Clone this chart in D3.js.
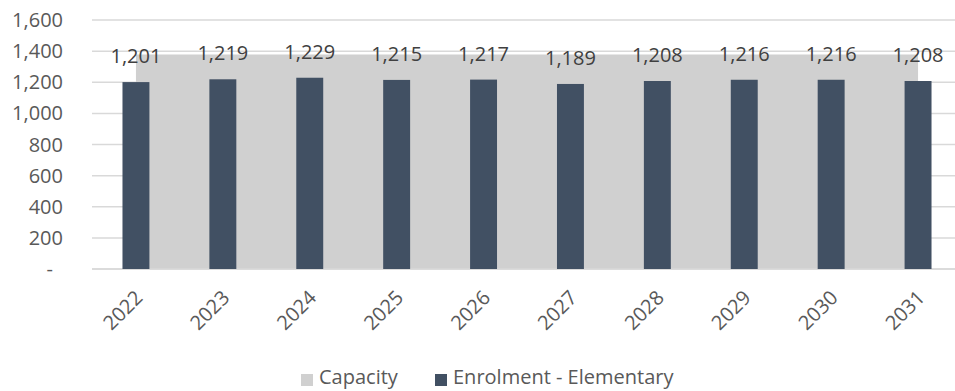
<!DOCTYPE html>
<html><head><meta charset="utf-8">
<script src="https://cdn.jsdelivr.net/npm/d3@7"></script>
<style>body{margin:0;background:#fff;} text{font-family:"Open Sans",sans-serif;}</style>
</head><body><svg id="c" width="955" height="391"></svg>
<script>
const years = ["2022","2023","2024","2025","2026","2027","2028","2029","2030","2031"];
const enrolment = [1201,1219,1229,1215,1217,1189,1208,1216,1216,1208];
const capacity = [1378,1378,1378,1378,1378,1378,1378,1378,1378,1378];
const yTicks = [0,200,400,600,800,1000,1200,1400,1600];
const legendLabels = ["Capacity","Enrolment - Elementary"];

const svg = d3.select("#c");
const x = d3.scaleBand().domain(years).range([92.5, 961.5]).paddingInner(0.69).paddingOuter(0.345);
const xc = d => x(d) + x.bandwidth()/2;
const y = d3.scaleLinear().domain([0,1600]).range([269,20]);
const fmt = d3.format(",");

// gridlines
svg.append("g").selectAll("line").data(yTicks).join("line")
  .attr("x1",92).attr("x2",955).attr("y1",d=>y(d)).attr("y2",d=>y(d))
  .attr("stroke","#d9d9d9").attr("stroke-width",1.5);

// y labels
svg.append("g").selectAll("text").data(yTicks).join("text")
  .attr("x",d=> d===0 ? 53 : 63).attr("y",d=>y(d)).attr("dy","0.35em")
  .attr("text-anchor","end").attr("font-size",20).attr("fill","#595959")
  .text(d=> d===0 ? "-" : fmt(d));

// capacity area
const area = d3.area().x((d,i)=>xc(years[i])).y0(y(0)).y1(d=>y(d));
svg.append("path").datum(capacity).attr("d",area).attr("fill","#d0d0d0");

// baseline
svg.append("line").attr("x1",92).attr("x2",955).attr("y1",y(0)).attr("y2",y(0))
  .attr("stroke","#d9d9d9").attr("stroke-width",1.5);

// bars
svg.append("g").selectAll("rect").data(enrolment).join("rect")
  .attr("x",(d,i)=>x(years[i])).attr("width",x.bandwidth())
  .attr("y",d=>y(d)).attr("height",d=>y(0)-y(d))
  .attr("fill","#415063");

// data labels
svg.append("g").selectAll("text").data(enrolment).join("text")
  .attr("x",(d,i)=>xc(years[i])).attr("y",d=>y(d)-19)
  .attr("text-anchor","middle").attr("font-size",20).attr("fill","#404040")
  .text(d=>fmt(d));

// x labels
svg.append("g").selectAll("text").data(years).join("text")
  .attr("transform",d=>`translate(${xc(d)+3},${294}) rotate(-45)`)
  .attr("text-anchor","end").attr("font-size",20).attr("fill","#595959")
  .attr("dy","0.35em")
  .text(d=>d);

// legend
const lg = svg.append("g");
const legendColors = ["#d0d0d0","#415063"];
const lx = [301, 435];
legendLabels.forEach((l,i)=>{
  lg.append("rect").attr("x",lx[i]).attr("y",374).attr("width",12).attr("height",12).attr("fill",legendColors[i]);
  lg.append("text").attr("x",lx[i]+18).attr("y",377).attr("dy","0.35em")
    .attr("font-size",20).attr("fill","#595959").text(l);
});
</script></body></html>
